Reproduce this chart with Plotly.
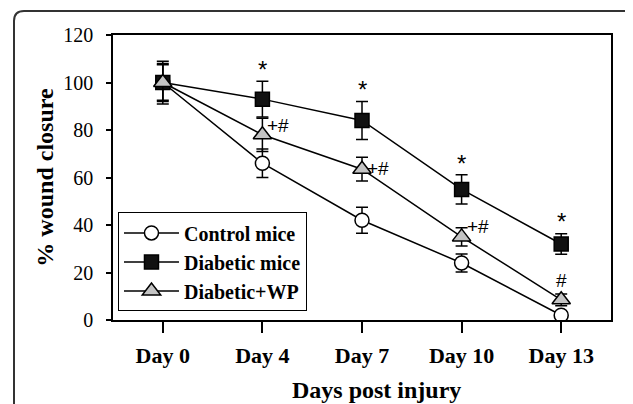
import plotly.graph_objects as go

days = ["Day 0", "Day 4", "Day 7", "Day 10", "Day 13"]
control = [100, 66, 42, 24, 2]
control_err = [9, 6, 5.5, 3.8, 1.5]
diabetic = [100, 93, 84, 55, 32]
diabetic_err = [7.5, 7.5, 8, 6.2, 4.3]
wp = [100, 78, 63.5, 35, 8.5]
wp_err = [8, 7, 5, 3.8, 2.5]

star_days = ["Day 4", "Day 7", "Day 10", "Day 13"]
star_y = [105.5, 97, 66, 41.5]
plushash_days = ["Day 4", "Day 7", "Day 10"]
plushash_y = [81.7, 63.6, 39.3]
hash_days = ["Day 13"]
hash_y = [16.8]

serif = "Liberation Serif"
fig = go.Figure()

def add(name, y, err, symbol, fill):
    fig.add_trace(go.Scatter(
        x=days, y=y, name=name, mode="lines+markers",
        line=dict(color="black", width=1.5),
        marker=dict(symbol=symbol, size=14 if symbol != "triangle-up" else 16,
                    color=fill, line=dict(color="black", width=1.5)),
        error_y=dict(type="data", array=err, visible=True, color="black",
                     thickness=1.5, width=6),
    ))

add("Control mice", control, control_err, "circle", "white")
add("Diabetic mice", diabetic, diabetic_err, "square", "#111111")
add("Diabetic+WP", wp, wp_err, "triangle-up", "#c4c4c4")

annots = []
for d, yv in zip(star_days, star_y):
    annots.append(dict(x=d, y=yv, text="*", showarrow=False,
                       font=dict(family="Liberation Sans", size=24, color="black")))
for d, yv in zip(plushash_days, plushash_y):
    annots.append(dict(x=d, y=yv, text="+#", showarrow=False, xanchor="left", xshift=3,
                       font=dict(family="Liberation Sans", size=19, color="black")))
for d, yv in zip(hash_days, hash_y):
    annots.append(dict(x=d, y=yv, text="#", showarrow=False,
                       font=dict(family="Liberation Sans", size=19, color="black")))
# x-axis title (slightly right of centre in the reference)
annots.append(dict(xref="paper", yref="paper", x=0.53, y=-0.2456, yanchor="middle",
                   text="Days post injury", showarrow=False,
                   font=dict(family=serif, size=24, weight="bold", color="black")))

# the page body adds an 8px offset; figure is sized to fill the rest of the window
fig.update_layout(
    width=625, height=396,
    margin=dict(l=105, r=22, t=27, b=84, autoexpand=False),
    paper_bgcolor="white", plot_bgcolor="white",
    font=dict(family=serif, color="black"),
    showlegend=True,
    legend=dict(x=0.01, y=0.03, xanchor="left", yanchor="bottom",
                bordercolor="black", borderwidth=1, bgcolor="white",
                font=dict(family=serif, size=20, weight="bold"),
                itemwidth=55, tracegroupgap=0),
    annotations=annots,
    xaxis=dict(
        type="category", range=[-0.5, 4.5], showgrid=False, zeroline=False,
        automargin=False,
        showline=True, linecolor="black", linewidth=1.5, mirror=True,
        ticks="outside", ticklen=11, tickwidth=1.5, tickcolor="black",
        tickfont=dict(family=serif, size=22, weight="bold"),
        ticklabelstandoff=4,
    ),
    yaxis=dict(
        range=[0, 120], dtick=20, showgrid=False, zeroline=False,
        automargin=False,
        showline=True, linecolor="black", linewidth=1.5, mirror=True,
        ticks="outside", ticklen=5, tickwidth=1.5, tickcolor="black",
        tickfont=dict(family=serif, size=20),
        ticklabelstandoff=9,
        title=dict(text="% wound closure", standoff=3,
                   font=dict(family=serif, size=24, weight="bold")),
    ),
)

# outer rounded frame (extends beyond the visible window, as in the reference)
x0, y0 = (6 - 105) / 498, (312 - 3) / 285
rx, ry = 10 / 498, 10 / 285
fig.add_shape(type="path", xref="paper", yref="paper",
              path=f"M {x0},-0.4 L {x0},{y0 - ry} Q {x0},{y0} {x0 + rx},{y0} L 1.1,{y0}",
              line=dict(color="#333333", width=2))

fig.write_html("out.html")
